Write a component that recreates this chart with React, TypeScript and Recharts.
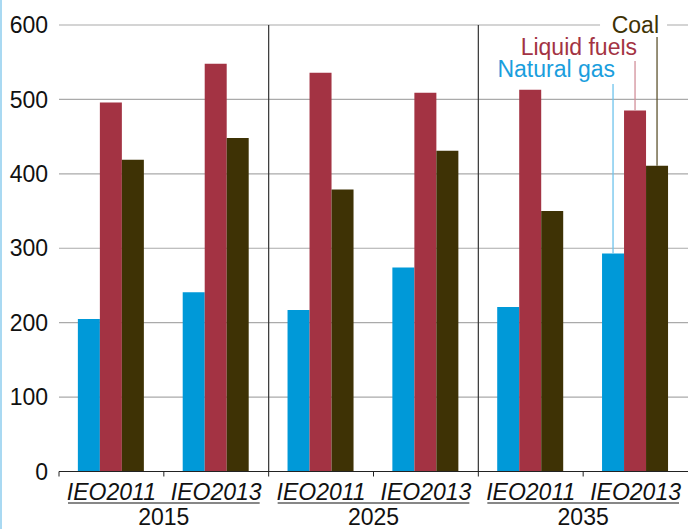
import React from "react";
import { BarChart, Bar, XAxis, YAxis, CartesianGrid, ReferenceLine, LabelList } from "recharts";

const years = ["2015", "2015", "2025", "2025", "2035", "2035"];
const editions = ["IEO2011", "IEO2013", "IEO2011", "IEO2013", "IEO2011", "IEO2013"];
const naturalGas = [205, 241, 217, 274, 221, 293];
const liquidFuels = [496, 548, 536, 509, 513, 485];
const coal = [419, 448, 379, 431, 350, 411];
const yTicks = [0, 100, 200, 300, 400, 500, 600];

const data = years.map((y, i) => ({
  key: y + "|" + editions[i],
  year: y,
  edition: editions[i],
  gas: naturalGas[i],
  liquid: liquidFuels[i],
  coal: coal[i],
}));

const FONT = "'Liberation Sans', Arial, sans-serif";
const FS = 23;
const BLUE = "#0099D8";
const RED = "#A33343";
const DARK = "#3E3205";

const XTick = (props: any) => {
  const { x, y, payload } = props;
  const idx = payload.index;
  const off = payload.offset || 52.4;
  const d = data[idx];
  const left = x - off;
  const els: any[] = [];
  els.push(<line key="t" x1={left} x2={left} y1={y} y2={y + 5} stroke="#222" strokeWidth={1} />);
  els.push(
    <text key="e" x={x} y={y + 28.5} textAnchor="middle" fontSize={FS} fontStyle="italic" fontFamily={FONT} fill="#111">
      {d.edition}
    </text>
  );
  if (idx % 2 === 1) {
    const gl = x - 3 * off;
    const gr = x + off;
    els.push(<line key="u" x1={gl + 9} x2={gr - 9} y1={y + 31.5} y2={y + 31.5} stroke="#111" strokeWidth={1.2} />);
    els.push(
      <text key="y" x={left} y={y + 53.5} textAnchor="middle" fontSize={FS} fontFamily={FONT} fill="#111">
        {d.year}
      </text>
    );
  }
  return <g>{els}</g>;
};

const makeLeader = (label: string, color: string, lineColor: string, textY: number, lineTop: number, bg: boolean) => (props: any) => {
  const { x, y, width, index } = props;
  if (index !== data.length - 1) return null;
  const cx = x + width / 2;
  return (
    <g>
      {bg && <rect x={cx - 57} y={textY - 20} width={67} height={26} fill="#fff" />}
      <line x1={cx} x2={cx} y1={lineTop} y2={y} stroke={lineColor} strokeWidth={1.3} />
      <text x={cx + 2} y={textY} textAnchor="end" fontSize={FS} fontFamily={FONT} fill={color}>
        {label}
      </text>
    </g>
  );
};

export default function App() {
  return (
    <div style={{ position: "absolute", left: 0, top: 0, width: 688, height: 529, background: "#fff" }}>
      <div style={{ position: "absolute", left: 0, top: 0, width: 2, height: 529, background: "#A9D9F2" }} />
      <BarChart
        width={688}
        height={529}
        data={data}
        margin={{ top: 25, right: 0, left: 0, bottom: 0 }}
        barCategoryGap="18%"
        barGap={0}
      >
        <CartesianGrid vertical={false} stroke="#AAAAAA" strokeWidth={1.2} />
        <YAxis
          domain={[0, 600]}
          ticks={yTicks}
          width={59}
          axisLine={false}
          tickLine={false}
          tickSize={0}
          tickMargin={11}
          tick={{ fontSize: FS, fill: "#111", fontFamily: FONT }}
          interval={0}
        />
        <XAxis
          dataKey="key"
          height={57.5}
          axisLine={{ stroke: "#222", strokeWidth: 1.2 }}
          tickLine={false}
          tickSize={0}
          tickMargin={0}
          interval={0}
          tick={<XTick />}
        />
        <ReferenceLine x={data[1].key} position="end" stroke="#333" strokeWidth={1.2} />
        <ReferenceLine x={data[3].key} position="end" stroke="#333" strokeWidth={1.2} />
        <Bar dataKey="gas" fill={BLUE} isAnimationActive={false}>
          <LabelList content={makeLeader("Natural gas", "#1A9EDD", "#6EC4EC", 77, 84, false)} />
        </Bar>
        <Bar dataKey="liquid" fill={RED} isAnimationActive={false}>
          <LabelList content={makeLeader("Liquid fuels", RED, "#D2909A", 55, 61, false)} />
        </Bar>
        <Bar dataKey="coal" fill={DARK} isAnimationActive={false}>
          <LabelList content={makeLeader("Coal", DARK, "#5E5430", 33, 37, true)} />
        </Bar>
      </BarChart>
    </div>
  );
}
